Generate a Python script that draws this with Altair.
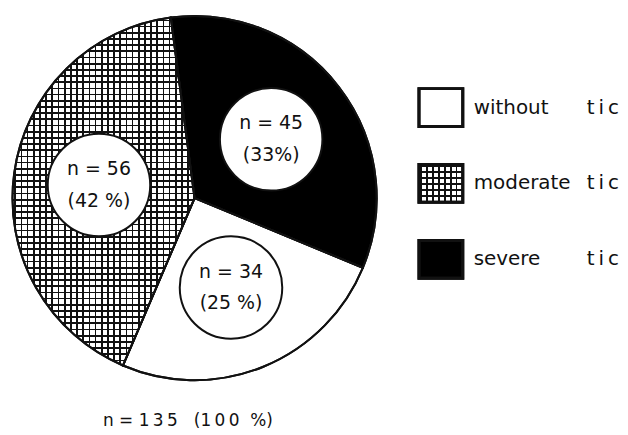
import math
import pandas as pd
import altair as alt

# ---- data ----
categories = ["severe", "without", "moderate"]      # clockwise from top
counts = [45, 34, 56]
percent_labels = ["(33%)", "(25 %)", "(42 %)"]
legend_names = ["without", "moderate", "severe"]
legend_suffix = "t\u2009i\u2009c"
total_label = "n = 1\u20093\u20095\u00a0\u00a0\u00a0(1\u20090\u20090\u00a0\u00a0%)"

# ---- layout / style ----
W, H = 369, 380          # pie panel
LW = 243                 # legend panel width
R = 183                  # pie radius (px)
OFFSET = math.radians(-7.5)
LABEL_R = 0.53 * R
FONT = "DejaVu Sans"
INK = "#111111"
CLEAR = "rgba(0,0,0,0)"
BOX_X = 63


def stripes(extent, period, lw, vertical, phase=2.0):
    stops = []
    p = phase
    while p < extent:
        a = round(p / extent, 5)
        b = round(min((p + lw) / extent, 1.0), 5)
        stops += [
            {"offset": a, "color": CLEAR},
            {"offset": a, "color": INK},
            {"offset": b, "color": INK},
            {"offset": b, "color": CLEAR},
        ]
        p += period
    return {
        "gradient": "linear",
        "x1": 0, "y1": 0,
        "x2": 1 if vertical else 0,
        "y2": 0 if vertical else 1,
        "stops": stops,
    }


total = sum(counts)
rows = []
cum = 0
for cat, n, pct in zip(categories, counts, percent_labels):
    start, end = cum, cum + n
    cum = end
    a = OFFSET + (start + end) / 2 / total * 2 * math.pi
    rows.append({
        "cat": cat, "n": n, "start": start, "end": end,
        "lx": LABEL_R * math.sin(a), "ly": LABEL_R * math.cos(a),
        "label": f"n = {n}\n{pct}",
    })
df = pd.DataFrame(rows)

theta = alt.Theta("start:Q", scale=alt.Scale(domain=[0, total],
                  range=[2 * math.pi + OFFSET, 4 * math.pi + OFFSET]))
theta2 = alt.Theta2("end:Q")
fill = alt.Color("cat:N", scale=alt.Scale(domain=categories,
                 range=["black", "white", "white"]), legend=None)

base = alt.Chart(df)
arcs = base.mark_arc(outerRadius=R, stroke=INK, strokeWidth=2).encode(
    theta=theta, theta2=theta2, fill=fill)

# moderate wedge bounding box (approx): 183 x 349 px
hatch_v = base.transform_filter(alt.datum.cat == "moderate").mark_arc(
    outerRadius=R, fill=stripes(183, 6.2, 1.7, True), strokeOpacity=0
).encode(theta=theta, theta2=theta2)
hatch_h = base.transform_filter(alt.datum.cat == "moderate").mark_arc(
    outerRadius=R, fill=stripes(349, 6.2, 1.7, False), strokeOpacity=0
).encode(theta=theta, theta2=theta2)
outline = base.mark_arc(outerRadius=R, fill="white", fillOpacity=0,
                        stroke=INK, strokeWidth=2).encode(
    theta=theta, theta2=theta2)

xs = alt.X("lx:Q", scale=alt.Scale(domain=[-W / 2, W / 2], nice=False, zero=False), axis=None)
ys = alt.Y("ly:Q", scale=alt.Scale(domain=[-H / 2, H / 2], nice=False, zero=False), axis=None)

circles = base.mark_point(shape="circle", filled=True, fill="white", opacity=1,
                          stroke=INK, strokeWidth=2, size=(2 * 51.5) ** 2).encode(
    x=xs, y=ys)
texts = base.mark_text(font=FONT, fontSize=19, lineBreak="\n", lineHeight=32,
                       color=INK, baseline="middle", dy=-16).encode(
    x=xs, y=ys, text="label:N")

pie = alt.layer(arcs, hatch_v, hatch_h, outline, circles, texts).properties(
    width=W, height=H,
    title=alt.TitleParams(total_label, orient="bottom", anchor="start", dx=95,
                          offset=26, fontSize=17, font=FONT, fontWeight="normal",
                          color=INK, baseline="top"),
)

# ---- legend panel ----
leg = alt.Chart(pd.DataFrame({"name": legend_names}))
ly = alt.Y("name:N", scale=alt.Scale(type="point", domain=legend_names,
           range=[99, 251.5], padding=0), axis=None)
box_shape = "M-1,-0.864H1V0.864H-1Z"
boxes = leg.mark_point(shape=box_shape, size=44 ** 2, filled=True, opacity=1,
                       stroke=INK, strokeWidth=3).encode(
    x=alt.value(BOX_X), y=ly,
    fill=alt.Color("name:N", scale=alt.Scale(domain=legend_names,
                   range=["white", "white", "black"]), legend=None))
box_v = leg.transform_filter(alt.datum.name == "moderate").mark_point(
    shape=box_shape, size=44 ** 2, filled=True, opacity=1, strokeOpacity=0,
    fill=stripes(44, 6, 1.7, True, 1.0)).encode(x=alt.value(BOX_X), y=ly)
box_h = leg.transform_filter(alt.datum.name == "moderate").mark_point(
    shape=box_shape, size=44 ** 2, filled=True, opacity=1, strokeOpacity=0,
    fill=stripes(38, 6, 1.7, False, 1.0)).encode(x=alt.value(BOX_X), y=ly)
box_out = leg.mark_point(shape=box_shape, size=44 ** 2, filled=False, opacity=1,
                         stroke=INK, strokeWidth=3).encode(x=alt.value(BOX_X), y=ly)
names = leg.mark_text(font=FONT, fontSize=20, align="left", baseline="middle",
                      color=INK).encode(x=alt.value(BOX_X + 33), y=ly, text="name:N")
tics = leg.mark_text(font=FONT, fontSize=20, align="right", baseline="middle",
                     color=INK).encode(x=alt.value(LW - 1), y=ly,
                                       text=alt.value(legend_suffix))

legend = alt.layer(boxes, box_v, box_h, box_out, names, tics).properties(width=LW, height=H)

chart = alt.hconcat(pie, legend, spacing=0, bounds="flush").properties(
    padding=0).configure_view(stroke=None)

chart.save("out.html", embed_options={"renderer": "svg", "actions": False})
